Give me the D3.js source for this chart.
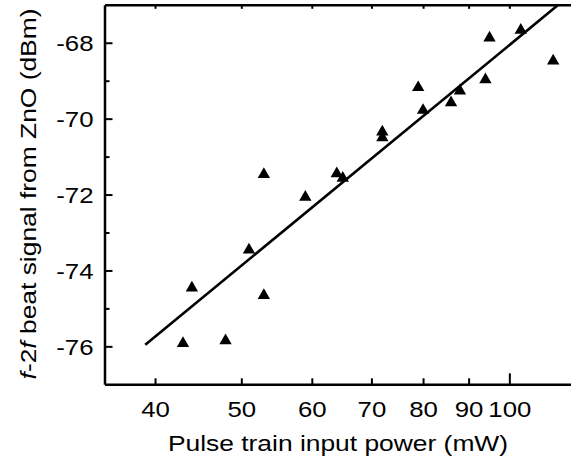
<html>
<head>
<meta charset="utf-8">
<script src="https://d3js.org/d3.v7.min.js"></script>
</head>
<style>
body { margin: 0; background: #fff; }
text { font-family: "Liberation Sans", Arial, sans-serif; }
</style>
<body>
<script>
// measured data: pulse train power (mW) vs f-2f beat signal (dBm)
var power = [43, 44, 48, 51, 53, 53, 59, 64, 65, 72, 72, 79, 80, 86, 88, 94, 95, 103, 112];
var beat = [-75.92, -74.46, -75.85, -73.46, -71.47, -74.66, -72.07, -71.45, -71.57, -70.35, -70.5,
            -69.18, -69.78, -69.58, -69.27, -68.97, -67.87, -67.67, -68.48];
// linear fit (on log power)
var fitPower = [39, 113.5];
var fitBeat = [-75.96, -67.0];

var xTicks = [40, 50, 60, 70, 80, 90, 100];
var yTicks = [-76, -74, -72, -70, -68];
var yMinor = [-75, -73, -71, -69];

var w = 571, h = 464;
var sx = 1.2; // the original font is set wider than Arial
var svg = d3.select("body").append("svg").attr("width", w).attr("height", h);

var xScale = d3.scaleLog().domain([35.1, 130]).range([104.5, 610.8]);
var yScale = d3.scaleLinear().domain([-77, -67]).range([384.3, 4.8]);
var fmt = function(d){ return String(d); };

// y axis (ticks inward)
var yAxis = svg.append("g").attr("transform", "translate(" + xScale(35.1) + ",0)")
  .call(d3.axisLeft(yScale).tickValues(yTicks).tickSize(-8).tickSizeOuter(0).tickPadding(11)
        .tickFormat(fmt));
yAxis.selectAll(".tick text").attr("x", -11 / sx).attr("dy", "0.36em");
svg.append("g").attr("transform", "translate(" + xScale(35.1) + ",0)")
  .call(d3.axisLeft(yScale).tickValues(yMinor).tickSize(-5).tickSizeOuter(0).tickFormat(""))
  .select(".domain").remove();

// x axis bottom
var xAxis = svg.append("g").attr("transform", "translate(0," + yScale(-77) + ")")
  .call(d3.axisBottom(xScale).tickValues(xTicks).tickSize(-6).tickSizeOuter(0).tickPadding(17)
        .tickFormat(fmt));
xAxis.selectAll(".tick line").attr("y2", function(d){ return d == 100 ? -11 : -6; });

// top frame
svg.append("g").attr("transform", "translate(0," + yScale(-67) + ")")
  .call(d3.axisTop(xScale).tickValues(xTicks).tickSize(-4).tickSizeOuter(0).tickFormat(""));

svg.selectAll(".domain").attr("stroke-width", 2.5);
svg.selectAll(".tick line").attr("stroke-width", 2);
svg.selectAll(".tick text").style("font-size", "21.5px").attr("fill", "#000")
  .style("font-family", "'Liberation Sans', Arial, sans-serif")
  .attr("transform", "scale(" + sx + ",1)");

// fit line
var line = d3.line().x(function(d){ return xScale(d[0]); }).y(function(d){ return yScale(d[1]); });
svg.append("path")
  .attr("d", line(d3.zip(fitPower, fitBeat)))
  .attr("stroke", "#000").attr("stroke-width", 2.6).attr("fill", "none");

// points
svg.append("g").selectAll("path.pt").data(d3.zip(power, beat)).enter().append("path")
  .attr("class", "pt")
  .attr("transform", function(d){ return "translate(" + xScale(d[0]) + "," + yScale(d[1]) + ")"; })
  .attr("d", d3.symbol().type(d3.symbolTriangle).size(66))
  .attr("fill", "#000");

// axis titles
svg.append("text")
  .attr("transform", "translate(338,451) scale(" + sx + ",1)")
  .attr("text-anchor", "middle")
  .style("font-size", "22px")
  .text("Pulse train input power (mW)");

var yl = svg.append("text")
  .attr("transform", "translate(36,194) rotate(-90) scale(" + sx + ",1)")
  .attr("text-anchor", "middle")
  .style("font-size", "22px");
yl.append("tspan").style("font-style", "italic").text("f");
yl.append("tspan").text("-2");
yl.append("tspan").style("font-style", "italic").text("f");
yl.append("tspan").text(" beat signal from ZnO (dBm)");
</script>
</body>
</html>
